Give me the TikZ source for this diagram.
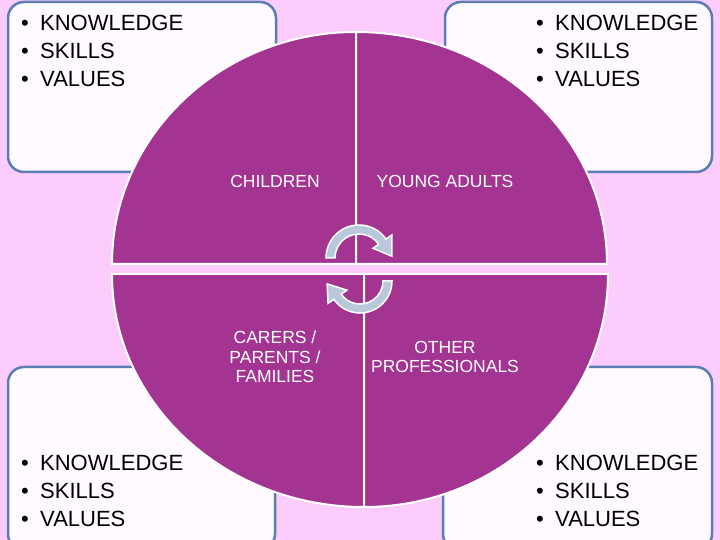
\documentclass[tikz,border=0pt]{standalone}
\usepackage{fontspec}
\setmainfont{Liberation Sans}
\definecolor{bgpink}{RGB}{252,204,252}
\definecolor{pieplum}{RGB}{163,52,146}
\definecolor{boxedge}{RGB}{90,125,180}
\definecolor{boxfill}{RGB}{255,250,255}
\definecolor{turnblue}{RGB}{186,200,220}
\newcommand{\kitem}[1]{\makebox[19pt][l]{\textbullet}#1}

\begin{document}
\begin{tikzpicture}[x=1pt,y=1pt,
  box/.style={draw=boxedge,fill=boxfill,line width=2.5pt,rounded corners=16pt},
  sector/.style={fill=pieplum,draw=white,line width=2pt},
  turn/.style={fill=turnblue,draw=white,line width=1.5pt},
  list/.style={anchor=north west,inner sep=0pt,align=left,font=\fontsize{22}{27.8}\selectfont},
  group/.style={text=white,inner sep=0pt,align=center,font=\fontsize{17.5}{19.5}\selectfont}]
  \fill[bgpink] (0,0) rectangle (720,540);
  \useasboundingbox (0,0) rectangle (720,540);
  \draw[box] (8,538) rectangle (276,368);
  \draw[box] (445,538) rectangle (712,368);
  \draw[box] (8,173) rectangle (275,-10);
  \draw[box] (443,173) rectangle (712,-10);
  \draw[sector] (356,276) -- (112,276) arc[start angle=180,end angle=90,x radius=244pt,y radius=232pt] -- cycle;
  \draw[sector] (356,276) -- (356,508) arc[start angle=90,end angle=0,x radius=251pt,y radius=232pt] -- cycle;
  \draw[sector] (364,266) -- (112,266) arc[start angle=180,end angle=270,x radius=252pt,y radius=233pt] -- cycle;
  \draw[sector] (364,266) -- (608,266) arc[start angle=0,end angle=-90,x radius=244pt,y radius=233pt] -- cycle;
  \begin{scope}[shift={(359,282)}]
    \draw[turn] (180:33) arc[start angle=180,end angle=35,radius=33pt] -- (35:40) -- (3:33) -- (35:17) -- (35:24) arc[start angle=35,end angle=180,radius=24pt] -- cycle;
  \end{scope}
  \begin{scope}[shift={(360,259)}]
    \draw[turn] (0:32) arc[start angle=0,end angle=-145,radius=32pt] -- (-145:39) -- (-175:33) -- (-145:16) -- (-145:23) arc[start angle=-145,end angle=0,radius=23pt] -- cycle;
  \end{scope}
  \node[list] (tlist) at (21,525) {\kitem{KNOWLEDGE}\\\kitem{SKILLS}\\\kitem{VALUES}};
  \node[list] (rlist) at (536,525) {\kitem{KNOWLEDGE}\\\kitem{SKILLS}\\\kitem{VALUES}};
  \node[list] (llist) at (21,85) {\kitem{KNOWLEDGE}\\\kitem{SKILLS}\\\kitem{VALUES}};
  \node[list] (blist) at (536,85) {\kitem{KNOWLEDGE}\\\kitem{SKILLS}\\\kitem{VALUES}};
  \node[group] (children) at (275,358.5) {CHILDREN};
  \node[group] (young) at (445,358.5) {YOUNG ADULTS};
  \node[group] (carers) at (275,183) {CARERS /\\PARENTS /\\FAMILIES};
  \node[group] (others) at (445,183) {OTHER\\PROFESSIONALS};
\end{tikzpicture}
\end{document}
